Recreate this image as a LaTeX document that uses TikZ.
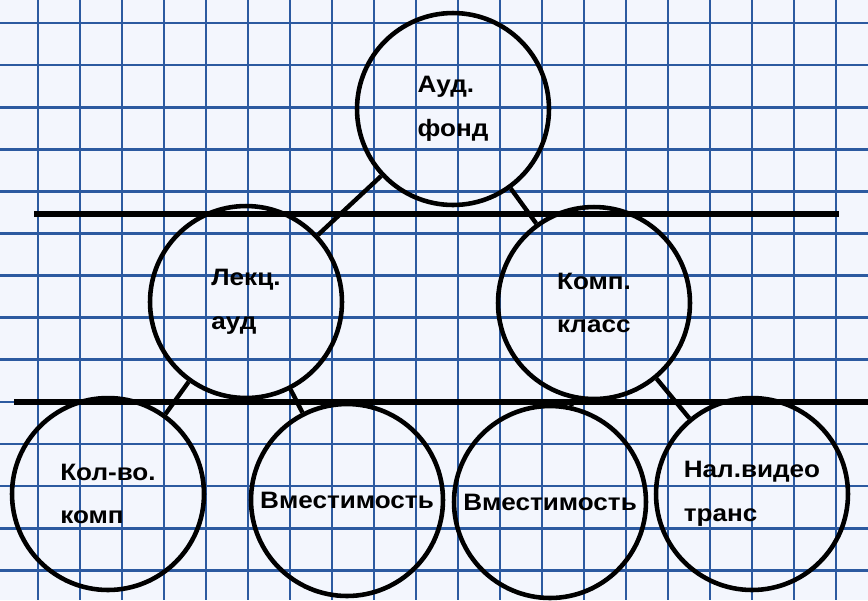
\documentclass[tikz,border=0pt]{standalone}
\usepackage{fontspec}
\setmainfont{Liberation Sans}[FakeStretch=1.1]

\definecolor{paper}{HTML}{F3F6FD}
\definecolor{gridblue}{HTML}{2C5AA0}

\begin{document}
\begin{tikzpicture}[
    x=0.02cm, y=-0.02cm,
    gridline/.style={gridblue, line width=1.5pt},
    rule/.style={black, line width=3.3pt},
    topic/.style={circle, draw=black, line width=2.6pt, minimum size=3.84cm,
                  inner sep=0pt, align=left,
                  font=\bfseries\fontsize{13.5}{24.8}\selectfont},
    conn/.style={black, line width=2.5pt},
]

% --- Squared paper ---
\useasboundingbox (0,0) rectangle (868,600);
\fill[paper] (0,0) rectangle (868,600);
\foreach \gx in {0,...,19}
    \draw[gridline] (38+42*\gx,0) -- (38+42*\gx,600);
\foreach \gy in {0,...,13}
    \draw[gridline] (0,23+42.1*\gy) -- (868,23+42.1*\gy);

% --- Level rules ---
\draw[rule] (34,214) -- (839,214);
\draw[rule] (14,402) -- (868,402);

% --- Root ---
\node[topic] (fond) at (453,109) {Ауд.\\фонд};

% --- Second level ---
\node[topic] (lect) at (246,302) {Лекц.\\ауд};
\node[topic] (comp) at (594,303) {Комп.\\класс};

% --- Third level ---
\node[topic] (qty)   at (108,494) {Кол-во.\\комп};
\node[topic] (capl)  at (347,500) {Вместимость};
\node[topic] (capc)  at (550,502) {Вместимость};
\node[topic] (video) at (752,494) {Нал.видео\\транс};

% --- Connections ---
\draw[conn] (fond) -- (lect);
\draw[conn] (fond) -- (comp);
\draw[conn] (lect) -- (qty);
\draw[conn] (lect) -- (capl);
\draw[conn] (comp) -- (capc);
\draw[conn] (comp) -- (video);

\end{tikzpicture}
\end{document}
